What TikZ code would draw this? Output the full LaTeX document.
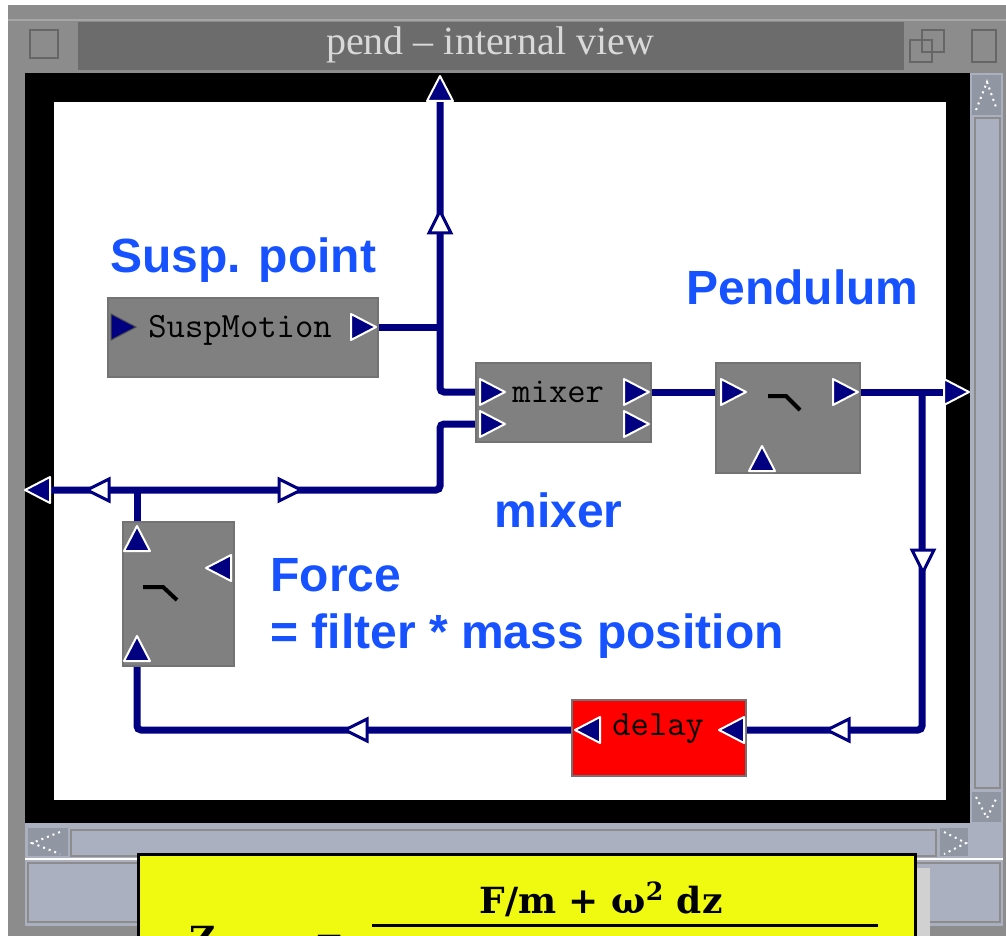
\documentclass[tikz,border=0pt]{standalone}
\usepackage{fontspec}
\usepackage{tikz}
\setmainfont{Liberation Serif}
\newfontfamily\labelfont{Liberation Sans}
\newfontfamily\formulafont{DejaVu Serif}
\definecolor{wire}{RGB}{0,0,128}
\definecolor{boxgray}{RGB}{128,128,128}
\definecolor{framegray}{RGB}{140,140,140}
\definecolor{titlegray}{RGB}{108,108,108}
\definecolor{scroll}{RGB}{170,176,192}
\definecolor{labelblue}{RGB}{22,82,255}
\definecolor{note}{RGB}{240,250,16}
\tikzset{
 wireline/.style={draw=wire,line width=3.5pt,rounded corners=2pt},
 block/.style={draw=black!55,line width=0.8pt,fill=boxgray,inner sep=0pt},
 blocktext/.style={anchor=base west,inner sep=0pt,font=\ttfamily\fontsize{17.8}{18}\selectfont},
 bluelabel/.style={anchor=base west,inner sep=0pt,text=labelblue,font=\labelfont\bfseries\fontsize{24}{26}\selectfont},
 port/.pic={\filldraw[fill=wire,draw=white,line width=1pt,line join=round] (-12,-13) -- (13,0) -- (-12,13) -- cycle;},
 inport/.pic={\filldraw[fill=wire,draw=black!70,line width=0.5pt] (-12,-13) -- (13,0) -- (-12,13) -- cycle;},
 flow/.pic={\filldraw[fill=white,draw=wire,line width=1.5pt] (-10,-11) -- (12,0) -- (-10,11) -- cycle;},
 button/.style={fill=framegray,draw=black!45,line width=0.6pt},
}

\begin{document}
\begin{tikzpicture}[x=0.5pt,y=-0.5pt]
 \clip (0,0) rectangle (1006,936);
 % window frame
 \fill[white] (0,0) rectangle (1006,936);
 \fill[framegray] (8,5) rectangle (1006,936);
 \draw[black!35,line width=0.6pt] (8,20) -- (1006,20);
 \fill[titlegray] (78,22) rectangle (905,70);
 \draw[button] (22,22) rectangle (75,70); \draw[black!60,line width=0.8pt] (30,30) rectangle (58,58);
 \draw[button] (905,22) rectangle (962,70); \draw[black!60,line width=0.8pt] (910,40) rectangle (932,62) (922,30) rectangle (944,52);
 \draw[button] (965,22) rectangle (1003,70); \draw[black!60,line width=0.8pt] (972,30) rectangle (996,62);
 \node[text=black!15,font=\fontsize{20}{22}\selectfont,inner sep=0pt] (title) at (490,45) {pend – internal view};
 % black border and canvas
 \fill[black] (25,73) rectangle (970,823);
 \fill[white] (54,102) rectangle (946,800);
 % vertical scrollbar
 \fill[scroll] (970,73) rectangle (1003,823);
 \fill[scroll!85!black] (972,75) rectangle (1001,115);
 \draw[white,dotted,line width=1pt] (976,110) -- (987,82) -- (997,110);
 \draw[black!45,line width=0.6pt] (975,118) rectangle (1000,788);
 \fill[scroll!85!black] (972,792) rectangle (1001,822);
 \draw[white,dotted,line width=1pt] (976,797) -- (987,818) -- (997,797);
 % horizontal scrollbar and bottom panel
 \fill[scroll] (25,823) rectangle (1003,930);
 \fill[scroll!85!black] (28,828) rectangle (68,856);
 \draw[white,dotted,line width=1pt] (60,832) -- (32,843) -- (60,854);
 \draw[black!45,line width=0.6pt] (71,830) rectangle (936,856);
 \fill[scroll!85!black] (940,828) rectangle (968,856);
 \draw[white,dotted,line width=1pt] (944,832) -- (966,843) -- (944,854);
 \draw[white,line width=1pt] (25,859) -- (1003,859);
 \draw[black!45,line width=0.6pt] (28,863) rectangle (1000,922);
 \fill[framegray] (8,926) rectangle (1006,936);
 % note with formula
 \fill[black!18] (915,868) rectangle (930,936);
 \filldraw[fill=note,draw=black,line width=1.5pt] (138,854) rectangle (915,950);
 \node[anchor=base,inner sep=0pt,font=\formulafont\bfseries\fontsize{18}{20}\selectfont] (num) at (601,913) {F/m + ω\textsuperscript{2} dz};
 \draw[line width=1.5pt] (372,925) -- (878,925);
 \node[anchor=base,inner sep=0pt,font=\formulafont\bfseries\fontsize{18}{20}\selectfont] (zed) at (203,952) {Z};
 \node[anchor=base,inner sep=0pt,font=\formulafont\bfseries\fontsize{18}{20}\selectfont] (eq) at (330,952) {=};
 % ports
 \coordinate (suspin) at (123,327);
 \coordinate (suspout) at (363,327);
 \coordinate (topend) at (440,89);
 \coordinate (j1) at (440,327);
 \coordinate (mixin1) at (492,392);
 \coordinate (mixin2) at (492,424);
 \coordinate (mixout1) at (636,392);
 \coordinate (mixout2) at (636,424);
 \coordinate (pendin) at (733,392);
 \coordinate (pendout) at (845,392);
 \coordinate (pendbot) at (762,459);
 \coordinate (rightend) at (956,392);
 \coordinate (j2) at (922,392);
 \coordinate (delayin) at (732,730);
 \coordinate (delayout) at (588,730);
 \coordinate (forcetop) at (137,539);
 \coordinate (forceright) at (219,568);
 \coordinate (forcebot) at (137,649);
 \coordinate (j3) at (137,490);
 \coordinate (bend) at (440,490);
 \coordinate (leftend) at (38,490);
 % wires
 \draw[wireline] (topend) |- (mixin1);
 \draw[wireline] (suspout) -- (j1);
 \draw[wireline] (mixout1) -- (pendin);
 \draw[wireline] (pendout) -- (rightend);
 \draw[wireline] (j2) |- (delayin);
 \draw[wireline] (delayout) -| (forcebot);
 \draw[wireline] (forcetop) -- (j3);
 \draw[wireline] (leftend) -- (bend) |- (mixin2);
 % flow arrows
 \pic[rotate=90] at (440,223) {flow};
 \pic at (289,490) {flow};
 \pic[rotate=180] at (99,490) {flow};
 \pic[rotate=-90] at (923,560) {flow};
 \pic[rotate=180] at (839,730) {flow};
 \pic[rotate=180] at (357,730) {flow};
 % blocks
 \node[block,minimum width=135pt,minimum height=39.5pt] (susp) at (243,337.5) {};
 \node[blocktext] (susptext) at (148,337) {SuspMotion};
 \node[block,minimum width=87.5pt,minimum height=39.5pt] (mixer) at (563.5,402.5) {};
 \node[blocktext] (mixertext) at (512,402) {mixer};
 \node[block,minimum width=72pt,minimum height=55pt] (pend) at (788,418) {};
 \draw[line width=2pt] (768,396) -- (786,396) -- (800,410);
 \node[block,minimum width=55.5pt,minimum height=72pt] (force) at (178.5,594) {};
 \draw[line width=2pt] (143,587) -- (163,587) -- (177,600);
 \node[block,fill=red,minimum width=87pt,minimum height=38pt] (delay) at (659,738) {};
 \node[blocktext] (delaytext) at (612,735) {delay};
 % port triangles
 \pic at (suspin) {inport};
 \pic at (suspout) {port};
 \pic[rotate=90] at (topend) {port};
 \pic at (mixin1) {port}; \pic at (mixin2) {port};
 \pic at (mixout1) {port}; \pic at (mixout2) {port};
 \pic at (pendin) {port}; \pic at (pendout) {port};
 \pic[rotate=90] at (pendbot) {port};
 \pic at (rightend) {port};
 \pic[rotate=180] at (leftend) {port};
 \pic[rotate=180] at (delayin) {port}; \pic[rotate=180] at (delayout) {port};
 \pic[rotate=90] at (forcetop) {port};
 \pic[rotate=180] at (forceright) {port};
 \pic[rotate=90] at (forcebot) {port};
 % labels
 \node[bluelabel] (susplabel) at (110,272) {Susp. point};
 \node[bluelabel] (pendlabel) at (686,304) {Pendulum};
 \node[bluelabel] (mixlabel) at (494,527) {mixer};
 \node[bluelabel] (forcelabel) at (270,591) {Force};
 \node[bluelabel] (filterlabel) at (270,648) {= filter * mass position};
\end{tikzpicture}
\end{document}
